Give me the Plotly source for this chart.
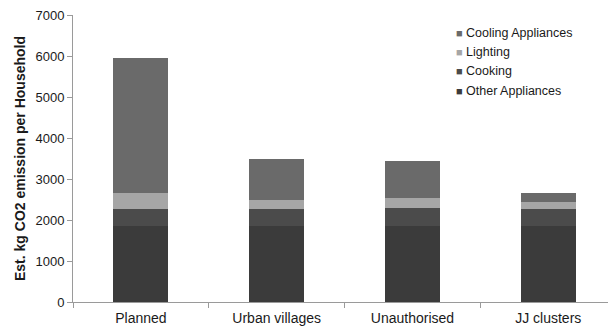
import plotly.graph_objects as go

# Household CO2 emission estimates by settlement type (kg per household)
categories = ["Planned", "Urban villages", "Unauthorised", "JJ clusters"]
other_appliances = [1850, 1850, 1850, 1850]
cooking = [430, 430, 440, 430]
lighting = [370, 220, 250, 150]
cooling_appliances = [3300, 980, 900, 220]

series = [
    ("Other Appliances", other_appliances, "#3b3b3b"),
    ("Cooking", cooking, "#4b4b4b"),
    ("Lighting", lighting, "#a6a6a6"),
    ("Cooling Appliances", cooling_appliances, "#6a6a6a"),
]

fig = go.Figure()
for name, vals, color in series:
    fig.add_trace(go.Bar(
        x=categories, y=vals, name=name,
        marker=dict(color=color, line=dict(width=0)),
        width=0.405, showlegend=False,
    ))
    # legend entry: small square glyph placed right next to the label
    fig.add_trace(go.Scatter(
        x=[None], y=[None], mode="markers",
        marker=dict(color="rgba(0,0,0,0)", size=1),
        name=f'<span style="color:{color};font-size:11px">■</span> {name}',
        showlegend=True, hoverinfo="skip",
    ))

font = "Liberation Sans, Arial, sans-serif"
fig.update_layout(
    barmode="stack",
    width=608, height=326,
    margin=dict(l=73, r=0, t=15, b=24),
    paper_bgcolor="white", plot_bgcolor="white",
    font=dict(family=font, size=13, color="#1a1a1a"),
    showlegend=True,
    legend=dict(
        traceorder="reversed",
        x=0.641, y=0.992, xanchor="left", yanchor="top",
        font=dict(size=12.5, color="#1a1a1a"),
        bgcolor="rgba(0,0,0,0)",
        tracegroupgap=0, itemwidth=30,
    ),
    xaxis=dict(
        range=[-0.5, 3.44],
        showline=True, linecolor="#9a9a9a", linewidth=1,
        ticks="outside", tickson="boundaries", ticklen=5, tickcolor="#9a9a9a",
        tickfont=dict(size=14, color="#1a1a1a"), ticklabelstandoff=3,
        showgrid=False, zeroline=False,
    ),
    yaxis=dict(
        range=[0, 7000], dtick=1000,
        showline=True, linecolor="#9a9a9a", linewidth=1,
        ticks="outside", ticklen=5, tickcolor="#9a9a9a",
        tickfont=dict(size=13, color="#1a1a1a"),
        showgrid=False, zeroline=False,
        title=dict(text="<b>Est. kg CO2 emission per Household</b>",
                   font=dict(size=14, color="#1a1a1a"), standoff=6),
    ),
)

fig.write_html("out.html")
